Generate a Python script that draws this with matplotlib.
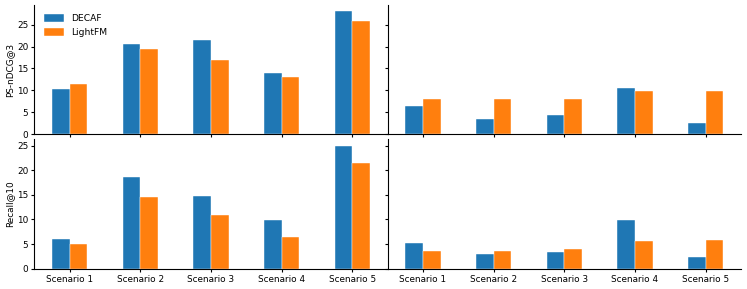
import matplotlib.pyplot as plt
import numpy as np

scenarios = ['Scenario 1', 'Scenario 2', 'Scenario 3', 'Scenario 4', 'Scenario 5']
methods = ['DECAF', 'LightFM']
colors = ['#1f77b4', '#ff7f0e']

# PS-nDCG@3, left and right panels
ndcg_left_decaf = [10.3, 20.7, 21.6, 14.0, 28.1]
ndcg_left_lightfm = [11.5, 19.5, 17.0, 13.1, 25.8]
ndcg_right_decaf = [6.4, 3.4, 4.5, 10.5, 2.5]
ndcg_right_lightfm = [7.95, 7.95, 8.1, 9.8, 9.9]

# Recall@10, left and right panels
recall_left_decaf = [6.05, 18.6, 14.7, 9.8, 25.0]
recall_left_lightfm = [5.0, 14.6, 10.9, 6.45, 21.4]
recall_right_decaf = [5.15, 3.05, 3.45, 9.8, 2.4]
recall_right_lightfm = [3.7, 3.7, 4.1, 5.6, 5.9]

plt.rcParams['font.size'] = 6.4
plt.rcParams['xtick.major.size'] = 2.5
plt.rcParams['ytick.major.size'] = 2.5

fig, axes = plt.subplots(2, 2, figsize=(7.47, 2.89), dpi=100, sharey='row', sharex=True)
fig.subplots_adjust(left=0.046, right=0.992, top=0.983, bottom=0.07, wspace=0, hspace=0.04)

data = [
    [(ndcg_left_decaf, ndcg_left_lightfm), (ndcg_right_decaf, ndcg_right_lightfm)],
    [(recall_left_decaf, recall_left_lightfm), (recall_right_decaf, recall_right_lightfm)],
]
ylabels = ['PS-nDCG@3', 'Recall@10']

x = np.arange(len(scenarios))
w = 0.25
for r in range(2):
    for c in range(2):
        ax = axes[r, c]
        for i, vals in enumerate(data[r][c]):
            ax.bar(x + (i - 0.5) * w, vals, w, color=colors[i], label=methods[i],
                   edgecolor='white', linewidth=0.3)
        ax.spines['top'].set_visible(False)
        ax.spines['right'].set_visible(False)
        ax.set_xlim(-0.5, 4.5)
        ax.set_xticks(x)
        ax.set_xticklabels(scenarios)
        ax.tick_params(pad=2)
    axes[r, 0].set_ylabel(ylabels[r], labelpad=2)

axes[0, 0].set_yticks([0, 5, 10, 15, 20, 25])
axes[1, 0].set_yticks([0, 5, 10, 15, 20, 25])
axes[0, 0].legend(loc='upper left', frameon=False, fontsize=6.6,
                  handlelength=2.2, handleheight=1.0, borderaxespad=0.6)

plt.savefig('out.png', dpi=100)
